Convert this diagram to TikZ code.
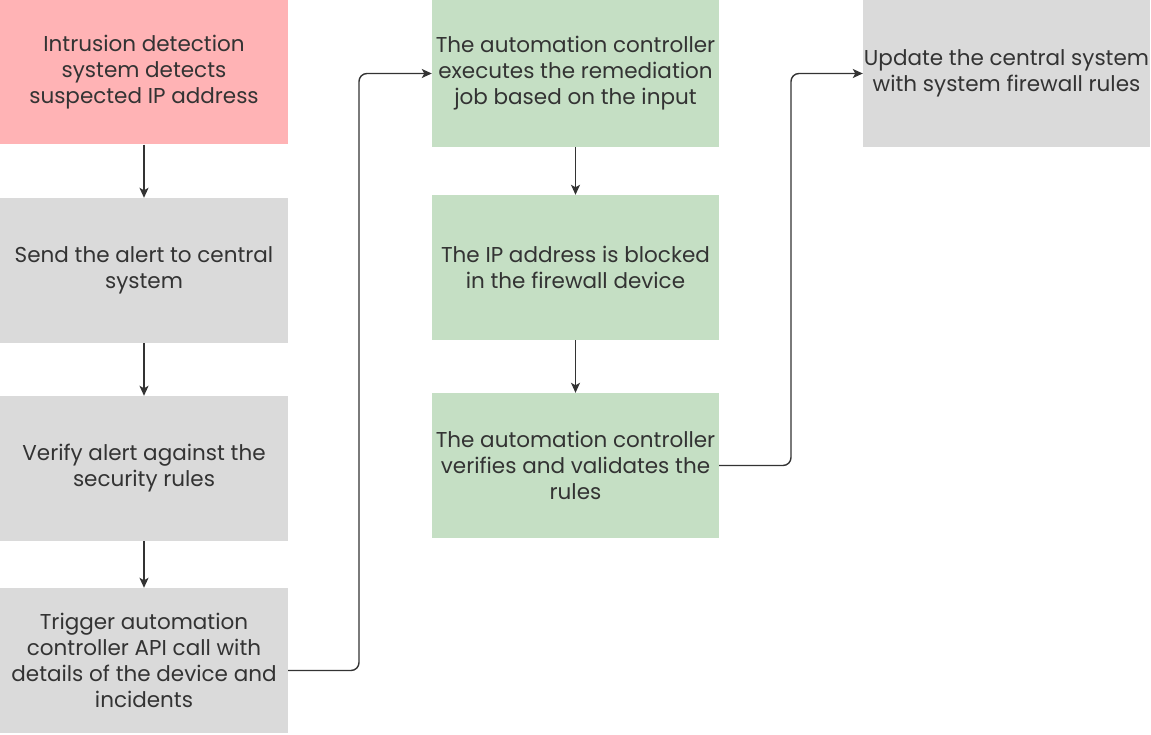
\documentclass[tikz,border=0pt]{standalone}
\usepackage{fontspec}
\setmainfont{Poppins}
\usetikzlibrary{arrows.meta}
\definecolor{alertpink}{HTML}{FFB3B5}
\definecolor{stepgray}{HTML}{DADADA}
\definecolor{stepgreen}{HTML}{C5DFC4}
\definecolor{inkgray}{HTML}{333333}

\begin{document}
\begin{tikzpicture}[x=1pt,y=1pt,
		box/.style={minimum width=288pt,minimum height=145pt,inner sep=0pt,align=center,text=inkgray,
			font=\fontsize{21.5}{26}\selectfont},
		flow/.style={draw=inkgray,line width=1.4pt,-{Stealth[length=10pt,width=9pt,inset=2.5pt]},rounded corners=8pt}]
		\useasboundingbox (0,0) rectangle (1151,-735);
		% left column
		\node[box,fill=alertpink] (detect) at (144,-72) {Intrusion detection\\system detects\\suspected IP address};
		\node[box,fill=stepgray] (alert) at (144,-270.5) {Send the alert to central\\system};
		\node[box,fill=stepgray] (verify) at (144,-468.5) {Verify alert against the\\security rules};
		\node[box,fill=stepgray] (trigger) at (144,-660.5) {Trigger automation\\controller API call with\\details of the device and\\incidents};
		% middle column
		\node[box,fill=stepgreen,minimum width=287pt,minimum height=147pt] (execute) at (575.5,-73.5) {The automation controller\\executes the remediation\\job based on the input};
		\node[box,fill=stepgreen,minimum width=287pt] (block) at (575.5,-267.5) {The IP address is blocked\\in the firewall device};
		\node[box,fill=stepgreen,minimum width=287pt] (validate) at (575.5,-465.5) {The automation controller\\verifies and validates the\\rules};
		% right column
		\node[box,fill=stepgray,minimum width=287pt,minimum height=147pt] (update) at (1006.5,-73.5) {Update the central system\\with system firewall rules};
		\draw[flow] (detect) -- (alert);
		\draw[flow] (alert) -- (verify);
		\draw[flow] (verify) -- (trigger);
		\draw[flow] ([yshift=-10pt]trigger.east) -- (359,-670.5) -- (359,-73.5) -- (execute.west);
		\draw[flow] (execute) -- (block);
		\draw[flow] (block) -- (validate);
		\draw[flow] (validate.east) -- (791,-465.5) -- (791,-73.5) -- (update.west);
\end{tikzpicture}
\end{document}
